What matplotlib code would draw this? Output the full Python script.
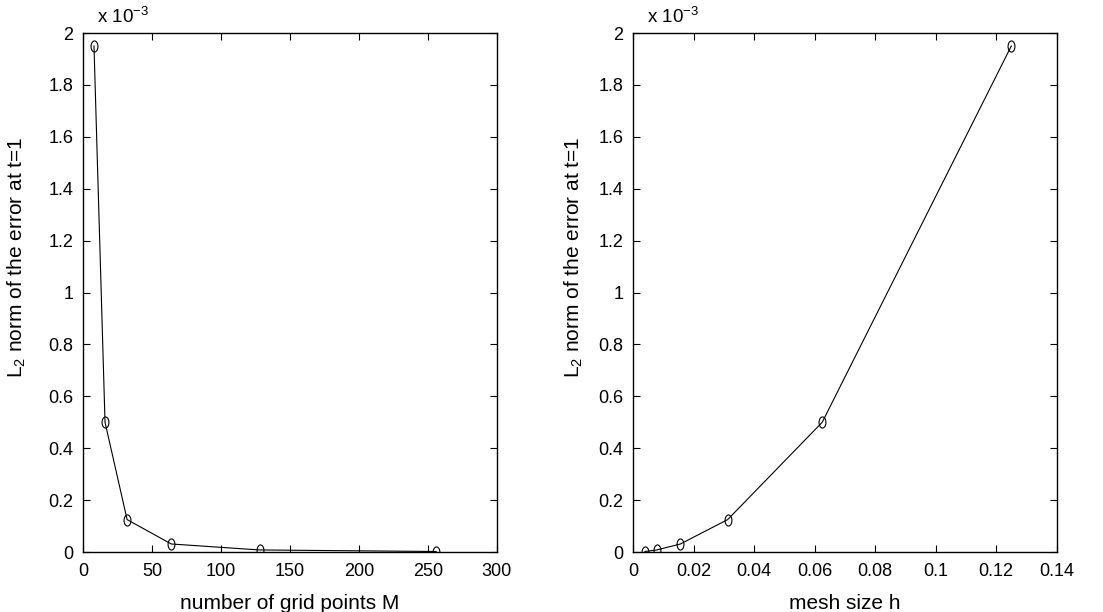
import numpy as np
import matplotlib.pyplot as plt
from matplotlib.path import Path

plt.rcParams['font.family'] = ['Liberation Sans', 'DejaVu Sans']
plt.rcParams['mathtext.fontset'] = 'custom'
plt.rcParams['mathtext.rm'] = 'Liberation Sans'
plt.rcParams['mathtext.it'] = 'Liberation Sans'

# data (errors in units of 1e-3)
grid_points = [8, 16, 32, 64, 128, 256]
mesh_size = [0.125, 0.0625, 0.03125, 0.015625, 0.0078125, 0.00390625]
l2_error = [1.95, 0.50, 0.125, 0.031, 0.008, 0.002]

ylabel = r'L$_2$ norm of the error at t=1'

# narrow ellipse marker like the stretched matlab 'o'
circ = Path.unit_circle()
ellipse = Path(circ.vertices * np.array([0.62, 1.0]), circ.codes)

fig = plt.figure(figsize=(11.03, 6.12), dpi=100)
ax1 = fig.add_axes([0.0752, 0.098, 0.3753, 0.848])
ax2 = fig.add_axes([0.574, 0.098, 0.384, 0.848])

def style(ax, xlim, xticks, xlabel, ylab_x):
    ax.set_xlim(*xlim)
    ax.set_ylim(0, 2)
    ax.set_xticks(xticks)
    ax.set_yticks(np.arange(0, 2.01, 0.2))
    ax.set_yticklabels(['0', '0.2', '0.4', '0.6', '0.8', '1', '1.2', '1.4', '1.6', '1.8', '2'])
    ax.tick_params(direction='in', top=True, right=True, length=5, width=0.8,
                   labelsize=13)
    ax.tick_params(axis='x', pad=8)
    ax.tick_params(axis='y', pad=7)
    for s in ax.spines.values():
        s.set_linewidth(1.0)
    ax.set_xlabel(xlabel, fontsize=15, labelpad=10)
    ax.set_ylabel(ylabel, fontsize=15)
    ax.yaxis.set_label_coords(ylab_x, 0.58, transform=fig.transFigure)
    ax.text(0.033, 1.012, r'x 10$^{-3}$', transform=ax.transAxes,
            fontsize=13.5, ha='left', va='bottom')

ax1.plot(grid_points, l2_error, color='black', lw=0.8, marker=ellipse,
         ms=8, mfc='none', mec='black', mew=0.8)
style(ax1, (0, 300), [0, 50, 100, 150, 200, 250, 300], 'number of grid points M', 0.0254)
ax1.set_xticklabels(['0', '50', '100', '150', '200', '250', '300'])

ax2.plot(mesh_size, l2_error, color='black', lw=0.8, marker=ellipse,
         ms=8, mfc='none', mec='black', mew=0.8)
style(ax2, (0, 0.14), np.arange(0, 0.141, 0.02), 'mesh size h', 0.530)
ax2.set_xticklabels(['0', '0.02', '0.04', '0.06', '0.08', '0.1', '0.12', '0.14'])

fig.savefig('out.png', dpi=100)
